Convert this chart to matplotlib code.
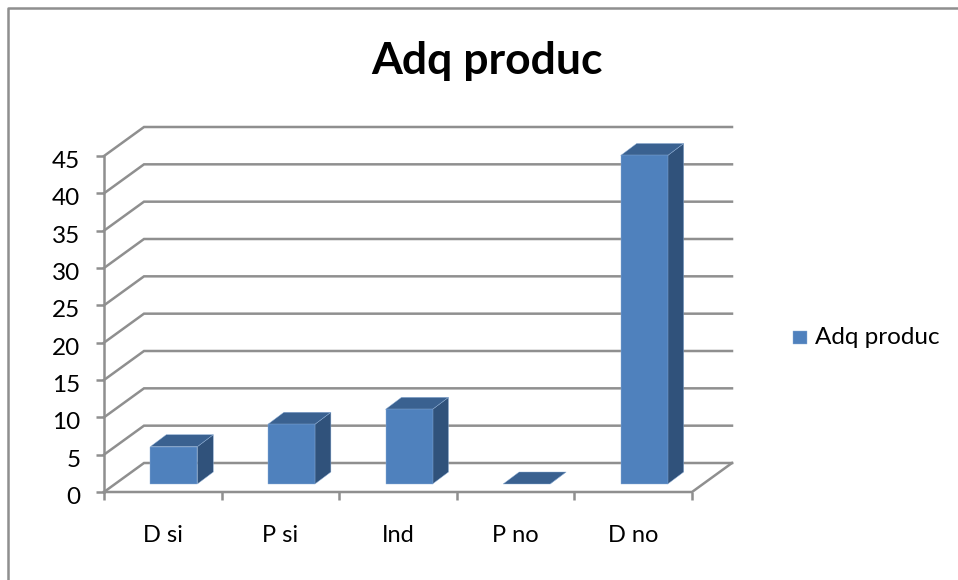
import matplotlib
matplotlib.use("Agg")
import matplotlib.pyplot as plt
from matplotlib.lines import Line2D
from matplotlib.patches import Polygon, Rectangle
from matplotlib.transforms import ScaledTranslation

categories = ["D si", "P si", "Ind", "P no", "D no"]
values = [5, 8, 10, 0, 44]
series_name = "Adq produc"
y_ticks = [0, 5, 10, 15, 20, 25, 30, 35, 40, 45]

W, H = 958, 580
GRAY = "#8f8f8f"
FRONT = "#4f81bd"
SIDE = "#30527b"
TOP = "#3a6190"
EDGE = "#8fb0d8"

plt.rcParams["font.family"] = ["Lato", "DejaVu Sans"]

fig = plt.figure(figsize=(W / 100, H / 100), dpi=100)
fig.patch.set_facecolor("white")

# outer frame, only top and left show up
fig.add_artist(Line2D([7.5 / W, 7.5 / W, 1], [0, 1 - 7.5 / H, 1 - 7.5 / H],
                      color=GRAY, lw=1.8, transform=fig.transFigure))

# plot box = front face of the 3d box
ax = fig.add_axes([104 / W, 1 - 492 / H, 588 / W, 336 / H])
ax.set_xlim(0, len(categories))
ax.set_ylim(0, 45)
ax.patch.set_alpha(0)
for s in ["top", "right", "bottom"]:
    ax.spines[s].set_visible(False)
ax.spines["left"].set_color(GRAY)
ax.spines["left"].set_linewidth(1.8)

# depth of the box in data units
px_x = len(categories) / 588
px_y = 45 / 336
dx = 40 * px_x
dy = 29 * px_y

for v in y_ticks:
    ax.plot([0, dx, len(categories) + dx], [v, v + dy, v + dy],
            color=GRAY, lw=1.8, clip_on=False, zorder=1, solid_joinstyle="miter")
# floor edges
ax.plot([0, len(categories), len(categories) + dx], [0, 0, dy],
        color=GRAY, lw=1.8, clip_on=False, zorder=1)

# bars
bar_w = 47 * px_x
off_x = 11 * px_x
off_y = 8 * px_y
side_x = 16 * px_x
side_y = 12 * px_y
for i, v in enumerate(values):
    x0 = i + 0.5 - bar_w / 2 + off_x
    x1 = x0 + bar_w
    y0 = off_y
    y1 = off_y + v
    ax.add_patch(Polygon([(x1, y0), (x1 + side_x, y0 + side_y),
                          (x1 + side_x, y1 + side_y), (x1, y1)],
                         facecolor=SIDE, edgecolor=EDGE, lw=0.3, clip_on=False, zorder=3))
    ax.add_patch(Polygon([(x0, y1), (x1, y1), (x1 + side_x, y1 + side_y),
                          (x0 + side_x, y1 + side_y)],
                         facecolor=TOP, edgecolor=EDGE, lw=0.3, clip_on=False, zorder=3))
    if v > 0:
        ax.add_patch(Rectangle((x0, y0), bar_w, v, facecolor=FRONT,
                               edgecolor=EDGE, lw=0.3, clip_on=False, zorder=4))

ax.set_yticks(y_ticks)
ax.set_xticks(range(len(categories) + 1))
ax.set_xticklabels([""] * (len(categories) + 1))
ax.tick_params(axis="y", length=6, width=1.8, color=GRAY, labelsize=17.5, pad=11, labelcolor="black")
ax.tick_params(axis="x", length=6, width=1.8, color=GRAY)

# nudge the value labels down a little
nudge = ScaledTranslation(0, -3.5 / 100, fig.dpi_scale_trans)
for lab in ax.get_yticklabels():
    lab.set_transform(lab.get_transform() + nudge)

for i, c in enumerate(categories):
    ax.annotate(c, (i + 0.5, 0), xytext=(0, -43), textcoords="offset pixels",
                ha="center", va="center", fontsize=17, annotation_clip=False)

fig.text(487 / W, 1 - 61 / H, series_name, fontsize=32, fontweight="bold",
         ha="center", va="center")

# legend
fig.add_artist(Rectangle((793 / W, 1 - 344 / H), 14 / W, 13 / H, facecolor=FRONT,
                         edgecolor=EDGE, lw=0.3, transform=fig.transFigure))
fig.text(815 / W, 1 - 337 / H, series_name, fontsize=17.5, ha="left", va="center")

fig.savefig("out.png", dpi=100)
